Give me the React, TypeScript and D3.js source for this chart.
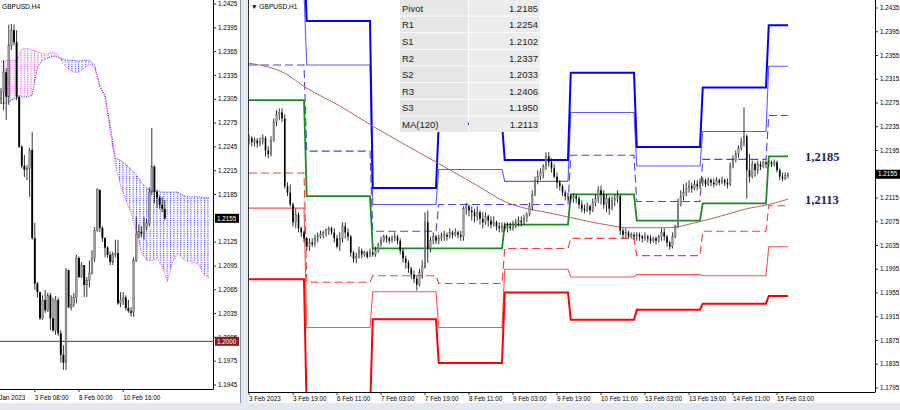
import React, { useEffect } from 'react';
import * as d3 from 'd3';

// ---------- Right panel (GBPUSD, H1) ----------
const h1FirstOpen = 1.2212;
const h1Close = [
  1.2216,1.2209,1.2212,1.2207,1.2210,1.2216,1.2195,1.2189,1.2212,1.2243,1.2256,1.2259,1.2249,1.2135,1.2124,1.2104,1.2074,1.2087,1.2064,1.2057,1.2047,
  1.2033,1.2040,1.2037,1.2047,1.2050,1.2053,1.2057,1.2060,1.2064,1.2057,1.2047,1.2033,1.2047,1.2067,1.2057,1.2050,1.2023,1.2013,1.2016,1.2026,1.2020,1.2023,1.2016,1.2023,
  1.2020,1.2026,1.2037,1.2043,1.2050,1.2047,1.2043,1.2047,1.2050,1.2043,1.2026,1.2013,1.2006,1.1996,1.1986,1.1979,1.1969,1.1989,1.1999,1.2074,1.2030,1.2043,1.2050,1.2043,
  1.2047,1.2050,1.2053,1.2050,1.2057,1.2053,1.2057,1.2053,1.2050,1.2097,1.2101,1.2094,1.2091,1.2084,1.2091,1.2080,1.2074,1.2084,1.2077,1.2070,1.2074,1.2067,1.2064,1.2067,
  1.2064,1.2067,1.2064,1.2070,1.2074,1.2077,1.2074,1.2080,1.2087,1.2101,1.2121,1.2145,1.2151,1.2158,1.2168,1.2185,1.2175,1.2165,1.2151,1.2141,1.2135,1.2124,1.2118,1.2118,
  1.2114,1.2118,1.2114,1.2104,1.2097,1.2094,1.2101,1.2094,1.2107,1.2114,1.2128,1.2121,1.2104,1.2114,1.2097,1.2111,1.2114,1.2118,1.2060,1.2053,1.2057,1.2050,1.2053,1.2050,
  1.2053,1.2050,1.2047,1.2050,1.2047,1.2043,1.2047,1.2043,1.2050,1.2057,1.2050,1.2040,1.2033,1.2050,1.2067,1.2104,1.2118,1.2124,1.2131,1.2135,1.2131,1.2138,1.2135,1.2141,
  1.2145,1.2138,1.2145,1.2141,1.2138,1.2145,1.2141,1.2145,1.2141,1.2138,1.2168,1.2178,1.2189,1.2199,1.2209,1.2219,1.2162,1.2151,1.2172,1.2162,1.2172,1.2168,1.2175,1.2172,
  1.2175,1.2172,1.2175,1.2162,1.2151,1.2148,1.2153,1.2155,
];
const h1High = [
  1.2222,1.2219,1.2217,1.2216,1.2217,1.2222,1.2219,1.2202,1.2219,1.2249,1.2263,1.2266,1.2266,1.2256,1.2141,1.2138,1.2107,1.2097,1.2091,1.2067,1.2060,
  1.2050,1.2047,1.2047,1.2053,1.2057,1.2060,1.2060,1.2064,1.2067,1.2067,1.2064,1.2053,1.2057,1.2074,1.2074,1.2064,1.2053,1.2026,1.2023,1.2033,1.2030,1.2026,1.2026,1.2030,
  1.2030,1.2033,1.2040,1.2050,1.2053,1.2053,1.2050,1.2052,1.2057,1.2053,1.2047,1.2030,1.2018,1.2010,1.1999,1.1993,1.1983,1.1996,1.2010,1.2091,1.2094,1.2050,1.2057,1.2053,
  1.2053,1.2057,1.2060,1.2057,1.2064,1.2060,1.2064,1.2060,1.2060,1.2101,1.2107,1.2104,1.2101,1.2097,1.2101,1.2094,1.2091,1.2091,1.2087,1.2084,1.2084,1.2077,1.2074,1.2074,
  1.2074,1.2074,1.2074,1.2077,1.2080,1.2084,1.2084,1.2087,1.2091,1.2107,1.2128,1.2151,1.2162,1.2165,1.2172,1.2192,1.2192,1.2182,1.2172,1.2158,1.2145,1.2138,1.2128,1.2124,
  1.2121,1.2123,1.2121,1.2118,1.2111,1.2104,1.2107,1.2104,1.2114,1.2121,1.2135,1.2136,1.2128,1.2121,1.2118,1.2118,1.2121,1.2128,1.2121,1.2064,1.2064,1.2060,1.2057,1.2057,
  1.2057,1.2057,1.2053,1.2057,1.2053,1.2053,1.2050,1.2050,1.2053,1.2064,1.2064,1.2053,1.2043,1.2057,1.2070,1.2114,1.2128,1.2138,1.2141,1.2145,1.2141,1.2145,1.2145,1.2148,
  1.2150,1.2148,1.2150,1.2148,1.2148,1.2150,1.2148,1.2151,1.2148,1.2148,1.2175,1.2187,1.2195,1.2204,1.2217,1.2268,1.2222,1.2189,1.2178,1.2175,1.2178,1.2177,1.2178,1.2178,
  1.2178,1.2178,1.2180,1.2178,1.2165,1.2158,1.2158,1.2158,
];
const h1Low = [
  1.2205,1.2202,1.2202,1.2200,1.2202,1.2205,1.2185,1.2182,1.2185,1.2209,1.2236,1.2246,1.2243,1.2131,1.2118,1.2101,1.2067,1.2064,1.2057,1.2050,1.2040,
  1.2026,1.2026,1.2033,1.2033,1.2040,1.2047,1.2047,1.2050,1.2053,1.2053,1.2040,1.2030,1.2026,1.2040,1.2047,1.2043,1.2016,1.2006,1.2005,1.2013,1.2013,1.2016,1.2013,1.2015,
  1.2016,1.2016,1.2023,1.2033,1.2040,1.2040,1.2038,1.2040,1.2042,1.2037,1.2020,1.2006,1.1996,1.1989,1.1979,1.1972,1.1959,1.1966,1.1979,1.1996,1.2006,1.2023,1.2037,1.2037,
  1.2037,1.2043,1.2043,1.2043,1.2047,1.2047,1.2050,1.2047,1.2043,1.2043,1.2087,1.2084,1.2077,1.2074,1.2077,1.2070,1.2064,1.2070,1.2067,1.2064,1.2067,1.2060,1.2057,1.2057,
  1.2060,1.2057,1.2060,1.2060,1.2064,1.2067,1.2067,1.2070,1.2074,1.2084,1.2094,1.2118,1.2138,1.2145,1.2148,1.2162,1.2168,1.2158,1.2148,1.2131,1.2128,1.2118,1.2111,1.2111,
  1.2107,1.2107,1.2106,1.2097,1.2091,1.2089,1.2091,1.2087,1.2091,1.2101,1.2107,1.2104,1.2097,1.2091,1.2087,1.2094,1.2101,1.2107,1.2053,1.2047,1.2048,1.2047,1.2047,1.2045,
  1.2043,1.2043,1.2040,1.2043,1.2040,1.2038,1.2040,1.2037,1.2040,1.2043,1.2043,1.2033,1.2028,1.2030,1.2047,1.2064,1.2101,1.2111,1.2118,1.2124,1.2124,1.2128,1.2128,1.2131,
  1.2135,1.2133,1.2135,1.2135,1.2133,1.2136,1.2136,1.2138,1.2135,1.2131,1.2135,1.2165,1.2175,1.2183,1.2195,1.2202,1.2114,1.2141,1.2148,1.2151,1.2155,1.2162,1.2165,1.2165,
  1.2168,1.2167,1.2168,1.2158,1.2145,1.2143,1.2145,1.2148,
];

// daily sessions (bar indices)
const dayStart = [0, 21, 45, 69, 93, 117, 141, 165, 189];
const dayEnd = [20, 44, 68, 92, 116, 140, 164, 188, 196];

// daily pivot levels
const pivotP = [1.2280, 1.2118, 1.2030, 1.2030, 1.2070, 1.2121, 1.2077, 1.2106, 1.2185];
const levelR1 = [1.2339, 1.2194, 1.2059, 1.2104, 1.2104, 1.2187, 1.2109, 1.2180, 1.2254];
const levelR2 = [1.2462, 1.2339, 1.2104, 1.2163, 1.2143, 1.2259, 1.2169, 1.2227, 1.2337];
const levelR3 = [1.2521, 1.2413, 1.2132, 1.2240, 1.2179, 1.2326, 1.2201, 1.2301, 1.2406];
const levelS1 = [1.2157, 1.1973, 1.1984, 1.1971, 1.2030, 1.2047, 1.2018, 1.2059, 1.2102];
const levelS2 = [1.2098, 1.1897, 1.1957, 1.1897, 1.1995, 1.1982, 1.1986, 1.1984, 1.2033];
const levelS3 = [1.1978, 1.1752, 1.1911, 1.1837, 1.1956, 1.1910, 1.1927, 1.1937, 1.1950];

// MA(120)
const maBars = [0, 13, 21, 33, 45, 57, 69, 83, 93, 101, 108, 117, 131, 137, 153, 161, 175, 181, 189, 196];
const maValues = [1.2342, 1.2325, 1.2300, 1.2270, 1.2236, 1.2204, 1.2173, 1.2136, 1.2109, 1.2097, 1.2091, 1.2082, 1.2069, 1.2065, 1.2065, 1.2072, 1.2089, 1.2097, 1.2104, 1.2113];

const tableLabels = ['Pivot', 'R1', 'S1', 'R2', 'S2', 'R3', 'S3', 'MA(120)'];
const tableValues = ['1.2185', '1.2254', '1.2102', '1.2337', '1.2033', '1.2406', '1.1950', '1.2113'];

const rightXLabels = ['3 Feb 2023', '3 Feb 19:00', '6 Feb 11:00', '7 Feb 03:00', '7 Feb 19:00', '8 Feb 11:00', '9 Feb 03:00', '9 Feb 19:00', '10 Feb 11:00', '13 Feb 03:00', '13 Feb 19:00', '14 Feb 11:00', '15 Feb 03:00'];
const rightXLabelBars = [0, 16, 32, 48, 64, 80, 96, 112, 128, 144, 160, 176, 192];
const rightYTicks = [1.2435, 1.2395, 1.2355, 1.2315, 1.2275, 1.2235, 1.2195, 1.2115, 1.2075, 1.2035, 1.1995, 1.1955, 1.1915, 1.1875, 1.1835, 1.1795];
const keyPivot = 1.2185;
const keyMA = 1.2113;
const currentPrice = 1.2155;

// ---------- Left panel (GBPUSD, H4) ----------
const h4FirstOpen = 1.2304;
const h4Close = [
  1.2314,1.2339,1.2308,1.2373,1.2392,1.2377,1.2308,1.2245,1.2221,1.2216,
  1.2218,1.2241,1.2130,1.2073,1.2062,1.2029,1.2052,1.2039,1.2058,1.2029,
  1.2014,1.2052,1.2010,1.1983,1.1973,1.2090,1.2043,1.2046,1.2055,1.2105,
  1.2081,1.2096,1.2071,1.2077,1.2086,1.2105,1.2140,1.2191,1.2143,1.2130,
  1.2118,1.2109,1.2100,1.2110,1.2111,1.2048,1.2052,1.2055,1.2042,1.2038,
  1.2036,1.2102,1.2135,1.2138,1.2136,1.2144,1.2149,1.2188,1.2220,1.2188,
  1.2181,1.2172,1.2167,1.2155,
];
const h4High = [
  1.2319,1.2354,1.2344,1.2399,1.2400,1.2399,1.2392,1.2310,1.2247,1.2235,
  1.2222,1.2244,1.2264,1.2149,1.2075,1.2052,1.2058,1.2065,1.2061,1.2061,
  1.2055,1.2057,1.2055,1.2014,1.1995,1.2092,1.2090,1.2058,1.2061,1.2109,
  1.2107,1.2100,1.2094,1.2081,1.2102,1.2115,1.2144,1.2193,1.2191,1.2145,
  1.2131,1.2120,1.2113,1.2113,1.2128,1.2128,1.2062,1.2062,1.2058,1.2052,
  1.2043,1.2106,1.2157,1.2147,1.2145,1.2157,1.2154,1.2194,1.2269,1.2222,
  1.2191,1.2184,1.2182,1.2178,
];
const h4Low = [
  1.2299,1.2291,1.2279,1.2298,1.2367,1.2373,1.2304,1.2244,1.2218,1.2207,
  1.2203,1.2182,1.2128,1.2065,1.2055,1.2027,1.2027,1.2036,1.2037,1.2014,
  1.2012,1.2008,1.2007,1.1973,1.1964,1.1964,1.2042,1.2039,1.2043,1.2048,
  1.2080,1.2080,1.2056,1.2056,1.2068,1.2084,1.2100,1.2138,1.2138,1.2125,
  1.2106,1.2105,1.2096,1.2096,1.2106,1.2046,1.2043,1.2046,1.2039,1.2036,
  1.2031,1.2031,1.2100,1.2130,1.2131,1.2128,1.2140,1.2145,1.2184,1.2174,
  1.2168,1.2167,1.2163,1.2153,
];

// Ichimoku cloud (every second slot, 0..80)
const cloudSlots = [0,2,4,6,8,10,12,14,16,18,20,22,24,26,28,30,32,34,36,38,40,42,44,46,48,50,52,54,56,58,60,62,64,66,68,70,72,74,76,78,80];
const spanA = [1.2300,1.2300,1.2304,1.2307,1.2308,1.2308,1.2310,1.2345,1.2354,1.2357,1.2359,1.2358,1.2355,1.2354,1.2354,1.2353,1.2354,1.2354,1.2348,1.2320,1.2310,1.2272,1.2231,1.2228,1.2223,1.2217,1.2210,1.2200,1.2193,1.2190,1.2189,1.2188,1.2188,1.2188,1.2188,1.2184,1.2182,1.2182,1.2182,1.2181,1.2181];
const spanB = [1.2352,1.2354,1.2354,1.2354,1.2368,1.2369,1.2367,1.2365,1.2362,1.2362,1.2365,1.2360,1.2350,1.2343,1.2339,1.2339,1.2344,1.2350,1.2344,1.2324,1.2308,1.2264,1.2222,1.2196,1.2178,1.2162,1.2140,1.2112,1.2102,1.2102,1.2104,1.2095,1.2075,1.2100,1.2111,1.2104,1.2100,1.2100,1.2097,1.2084,1.2080];

const leftXLabels = ['31 Jan 2023', '3 Feb 08:00', '8 Feb 00:00', '10 Feb 16:00'];
const leftXLabelSlots = [-4, 13, 30, 47];
const leftYTicks = [1.2425, 1.2395, 1.2365, 1.2335, 1.2305, 1.2275, 1.2245, 1.2215, 1.2185, 1.2125, 1.2095, 1.2065, 1.2035, 1.2005, 1.1975, 1.1945];
const leftLevel = 1.2000;

const FONT = "'Liberation Sans', Arial, sans-serif";

export default function App() {
  useEffect(() => {
    document.body.style.margin = '0';
  }, []);

  // scales
  const xR = d3.scaleLinear().domain([0, 196]).range([249, 788]);
  const yR = d3.scaleLinear().domain([1.1795, 1.2435]).range([388, 8]);
  const xL = d3.scaleLinear().domain([0, 80]).range([1, 209]);
  const yL = d3.scaleLinear().domain([1.1945, 1.2425]).range([385, 4]);

  const stepLine = d3.line<[number, number]>().x((d) => xR(d[0])).y((d) => yR(d[1]));
  const stepPts = (levels: number[]) => {
    const pts: [number, number][] = [];
    levels.forEach((v, d) => {
      pts.push([dayStart[d], v]);
      pts.push([dayEnd[d], v]);
    });
    return pts;
  };

  const levelStyles = [
    { key: 'r2', data: levelR2, stroke: '#5c5cff', w: 1.1, dash: undefined as string | undefined },
    { key: 's2', data: levelS2, stroke: '#ff5252', w: 1.1, dash: undefined },
    { key: 'r1', data: levelR1, stroke: '#4242ff', w: 1.1, dash: '8,4' },
    { key: 's1', data: levelS1, stroke: '#ff3a3a', w: 1.1, dash: '8,4' },
    { key: 'r3', data: levelR3, stroke: '#0000ff', w: 2, dash: undefined },
    { key: 's3', data: levelS3, stroke: '#ff0000', w: 2, dash: undefined },
    { key: 'p', data: pivotP, stroke: '#1c8c1c', w: 1.8, dash: undefined },
  ];

  const maLine = d3
    .line<number>()
    .x((_, i) => xR(maBars[i]))
    .y((d) => yR(d))
    .curve(d3.curveMonotoneX);

  // cloud
  const blueArea = d3
    .area<number>()
    .x((_, i) => xL(cloudSlots[i]))
    .y0((_, i) => yL(spanB[i]))
    .y1((_, i) => yL(Math.max(spanA[i], spanB[i])));
  const magentaArea = d3
    .area<number>()
    .x((_, i) => xL(cloudSlots[i]))
    .y0((_, i) => yL(spanA[i]))
    .y1((_, i) => yL(Math.max(spanA[i], spanB[i])));
  const spanLine = d3.line<number>().x((_, i) => xL(cloudSlots[i])).y((d) => yL(d));

  const fmt4 = d3.format('.4f');

  const renderCandles = (
    closes: number[], highs: number[], lows: number[], firstOpen: number,
    xs: (i: number) => number, ys: d3.ScaleLinear<number, number>, bw: number
  ) =>
    closes.map((c, i) => {
      const o = i === 0 ? firstOpen : closes[i - 1];
      const hi = Math.max(highs[i], o, c);
      const lo = Math.min(lows[i], o, c);
      const x = xs(i);
      const up = c >= o;
      const top = ys(Math.max(o, c));
      const bot = ys(Math.min(o, c));
      return (
        <g key={i}>
          <line x1={x} x2={x} y1={ys(hi)} y2={ys(lo)} stroke="#000" strokeWidth={0.8} />
          <rect x={x - bw / 2} y={top} width={bw} height={Math.max(0.9, bot - top)} fill={up ? '#9c9c9c' : '#000'} stroke={up ? '#444' : 'none'} strokeWidth={up ? 0.3 : 0} />
        </g>
      );
    });

  const rowH = 133 / tableLabels.length;

  return (
    <svg width={900} height={410} style={{ position: 'absolute', left: 0, top: 0, background: '#fff' }} fontFamily={FONT}>
      <defs>
        <clipPath id="clipL"><rect x={0} y={0} width={213} height={389} /></clipPath>
        <clipPath id="clipR"><rect x={249} y={0} width={626} height={392} /></clipPath>
        <pattern id="dotBlue" width={3.4} height={2.2} patternUnits="userSpaceOnUse">
          <rect x={0} y={0} width={1.1} height={1.1} fill="#3434ff" />
        </pattern>
        <pattern id="dotMag" width={3.4} height={2.2} patternUnits="userSpaceOnUse">
          <rect x={0} y={0} width={1.1} height={1.1} fill="#ff3cff" />
        </pattern>
      </defs>
      <rect x={0} y={0} width={900} height={410} fill="#fff" />

      {/* ===== LEFT PANEL ===== */}
      <g clipPath="url(#clipL)">
        <path d={blueArea(spanA) || ''} fill="url(#dotBlue)" />
        <path d={magentaArea(spanA) || ''} fill="url(#dotMag)" />
        <path d={spanLine(spanA) || ''} fill="none" stroke="#4040ff" strokeWidth={1} strokeDasharray="1.2,1.2" />
        <path d={spanLine(spanB) || ''} fill="none" stroke="#ff40ff" strokeWidth={1} strokeDasharray="1.2,1.2" />
        <line x1={0} x2={213} y1={yL(leftLevel)} y2={yL(leftLevel)} stroke="#8e2a2a" strokeWidth={1} />
        {renderCandles(h4Close, h4High, h4Low, h4FirstOpen, (i) => xL(i), yL, 1.9)}
      </g>
      <text x={2} y={9} fontSize={6.6} fill="#000">GBPUSD,H4</text>
      {/* left axes */}
      <line x1={213.5} x2={213.5} y1={0} y2={389} stroke="#000" strokeWidth={1} />
      <line x1={0} x2={213.5} y1={389.5} y2={389.5} stroke="#000" strokeWidth={1} />
      {leftYTicks.map((t) => (
        <g key={t}>
          <line x1={213} x2={216} y1={yL(t)} y2={yL(t)} stroke="#000" strokeWidth={0.8} />
          <text x={218} y={yL(t)} dy="0.35em" fontSize={6.3} fill="#000">{fmt4(t)}</text>
        </g>
      ))}
      <rect x={215} y={yL(currentPrice) - 4.5} width={24} height={9} fill="#000" />
      <text x={217} y={yL(currentPrice)} dy="0.35em" fontSize={6.3} fill="#fff">{fmt4(currentPrice)}</text>
      <rect x={215} y={yL(leftLevel) - 4.5} width={24} height={9} fill="#8b1e1e" />
      <text x={217} y={yL(leftLevel)} dy="0.35em" fontSize={6.3} fill="#fff">{fmt4(leftLevel)}</text>
      {leftXLabels.map((lab, i) => (
        <g key={lab}>
          <line x1={xL(leftXLabelSlots[i])} x2={xL(leftXLabelSlots[i])} y1={389} y2={392} stroke="#000" strokeWidth={0.8} />
          <text x={xL(leftXLabelSlots[i])} y={398} dy="0.35em" fontSize={6.3} fill="#000">{lab}</text>
        </g>
      ))}

      {/* separator frames */}
      <rect x={240} y={0} width={8} height={410} fill="#e1e8f0" />
      <line x1={240.5} x2={240.5} y1={0} y2={403} stroke="#8a96a4" strokeWidth={1} />
      <rect x={0} y={403} width={900} height={7} fill="#e1e8f0" />

      {/* ===== RIGHT PANEL ===== */}
      <rect x={248} y={0} width={652} height={403} fill="#fff" />
      <g clipPath="url(#clipR)">
        {levelStyles.map((s) => (
          <path key={s.key} d={stepLine(stepPts(s.data)) || ''} fill="none" stroke={s.stroke} strokeWidth={s.w} strokeDasharray={s.dash} />
        ))}
        <path d={maLine(maValues) || ''} fill="none" stroke="#c06058" strokeWidth={1} />
        {renderCandles(h1Close, h1High, h1Low, h1FirstOpen, (i) => xR(i), yR, 1.6)}
      </g>
      <line x1={248.5} x2={248.5} y1={0} y2={392} stroke="#333" strokeWidth={1} />
      <text x={251} y={9} fontSize={6.6} fill="#000">▼ GBPUSD,H1</text>

      {/* table */}
      {tableLabels.map((lab, i) => (
        <g key={lab}>
          <rect x={400} y={i * rowH} width={68} height={rowH - 1} fill="#e6e6e6" />
          <rect x={469} y={i * rowH} width={71} height={rowH - 1} fill="#ececec" />
          <text x={402} y={i * rowH + rowH / 2} dy="0.35em" fontSize={9.5} fill="#222">{lab}</text>
          <text x={538} y={i * rowH + rowH / 2} dy="0.35em" fontSize={9.5} fill="#222" textAnchor="end">{tableValues[i]}</text>
        </g>
      ))}

      {/* key level labels */}
      <text x={805} y={yR(keyPivot)} dy="0.35em" fontSize={12.5} fontWeight="bold" fontFamily="'Liberation Serif', 'Times New Roman', serif" fill="#1b1b6e">{fmt4(keyPivot).replace('.', ',')}</text>
      <text x={805} y={yR(keyMA)} dy="0.35em" fontSize={12.5} fontWeight="bold" fontFamily="'Liberation Serif', 'Times New Roman', serif" fill="#1b1b6e">{fmt4(keyMA).replace('.', ',')}</text>

      {/* right axes */}
      <line x1={875.5} x2={875.5} y1={0} y2={392} stroke="#000" strokeWidth={1} />
      <line x1={248} x2={875.5} y1={392.5} y2={392.5} stroke="#000" strokeWidth={1} />
      {rightYTicks.map((t) => (
        <g key={t}>
          <line x1={875} x2={878} y1={yR(t)} y2={yR(t)} stroke="#000" strokeWidth={0.8} />
          <text x={880} y={yR(t)} dy="0.35em" fontSize={6.3} fill="#000">{fmt4(t)}</text>
        </g>
      ))}
      <rect x={876} y={yR(currentPrice) - 4.5} width={24} height={9} fill="#000" />
      <text x={878} y={yR(currentPrice)} dy="0.35em" fontSize={6.3} fill="#fff">{fmt4(currentPrice)}</text>
      {rightXLabels.map((lab, i) => (
        <g key={lab}>
          <line x1={xR(rightXLabelBars[i])} x2={xR(rightXLabelBars[i])} y1={392} y2={395} stroke="#000" strokeWidth={0.8} />
          <text x={xR(rightXLabelBars[i])} y={398.5} dy="0.35em" fontSize={6.3} fill="#000">{lab}</text>
        </g>
      ))}
    </svg>
  );
}
